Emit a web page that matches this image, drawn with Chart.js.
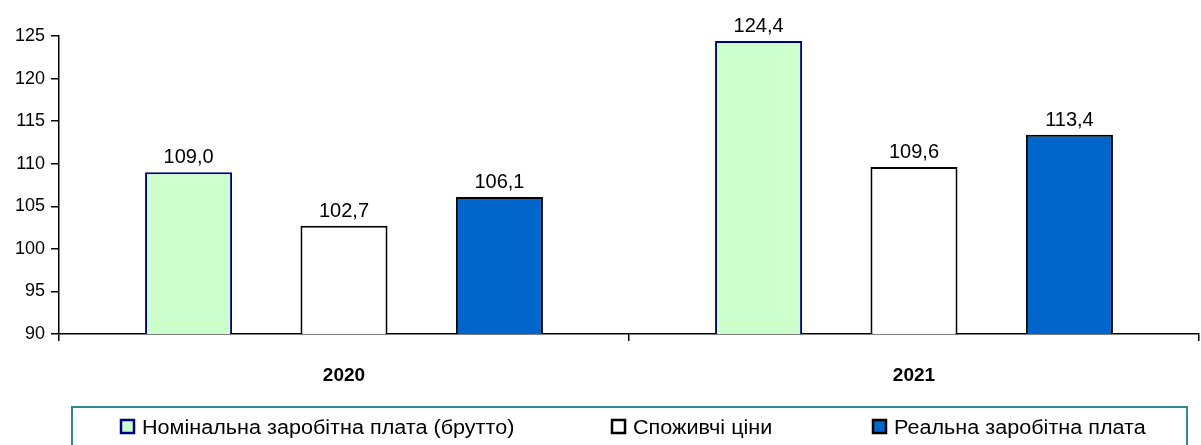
<!DOCTYPE html>
<html><head><meta charset="utf-8">
<script src="https://cdn.jsdelivr.net/npm/chart.js@4/dist/chart.umd.min.js"></script>
<style>html,body{margin:0;padding:0;background:#fff}#wrap{width:1201px;height:445px;position:relative}</style>
</head><body><div id="wrap"><canvas id="c" width="1201" height="445"></canvas></div>
<script>
const categories = ['2020', '2021'];
const seriesNames = ['Номінальна заробітна плата (брутто)', 'Споживчі ціни', 'Реальна заробітна плата'];
const nominalWage = [109.0, 124.4];
const consumerPrices = [102.7, 109.6];
const realWage = [106.1, 113.4];
const yMin = 90, yMax = 125, yStep = 5;

const FONT = "'Liberation Sans', Arial, sans-serif";

const valueLabels = {
  id: 'valueLabels',
  afterDatasetsDraw(chart) {
    const ctx = chart.ctx;
    ctx.save();
    ctx.font = "20px " + FONT;
    ctx.fillStyle = '#000';
    ctx.textAlign = 'center';
    ctx.textBaseline = 'alphabetic';
    chart.data.datasets.forEach((ds, i) => {
      chart.getDatasetMeta(i).data.forEach((bar, j) => {
        ctx.fillText(ds.data[j].toFixed(1).replace('.', ','), bar.x, bar.y - 9);
      });
    });
    ctx.restore();
  }
};

const boxLegend = {
  id: 'boxLegend',
  afterDraw(chart) {
    const ctx = chart.ctx;
    ctx.save();
    ctx.strokeStyle = '#2e8b8b';
    ctx.lineWidth = 2;
    ctx.strokeRect(72, 407, 1115, 45);
    const starts = [120, 611, 872];
    const cy = 427;
    ctx.font = "20px " + FONT;
    ctx.textBaseline = 'middle';
    ctx.textAlign = 'left';
    chart.data.datasets.forEach((ds, i) => {
      const x = starts[i];
      ctx.fillStyle = ds.backgroundColor;
      ctx.fillRect(x + 1, cy - 7, 13, 13);
      ctx.strokeStyle = ds.borderColor;
      ctx.lineWidth = 2.5;
      ctx.strokeRect(x + 1, cy - 7, 13, 13);
      ctx.fillStyle = '#000';
      ctx.save();
      ctx.translate(x + 22, cy + 1);
      ctx.scale(1.08, 1);
      ctx.fillText(ds.label, 0, 0);
      ctx.restore();
    });
    ctx.restore();
  }
};

new Chart(document.getElementById('c'), {
  type: 'bar',
  data: {
    labels: categories,
    datasets: [
      { label: seriesNames[0], data: nominalWage, backgroundColor: '#ccffcc', borderColor: '#000080', borderWidth: 2 },
      { label: seriesNames[1], data: consumerPrices, backgroundColor: '#ffffff', borderColor: '#000000', borderWidth: 2 },
      { label: seriesNames[2], data: realWage, backgroundColor: '#0066cc', borderColor: '#000000', borderWidth: 2 }
    ]
  },
  plugins: [valueLabels, boxLegend],
  options: {
    responsive: false,
    animation: false,
    layout: { padding: { top: 36, right: 2, left: 0, bottom: 51 } },
    datasets: { bar: { categoryPercentage: 0.818, barPercentage: 0.56 } },
    scales: {
      x: {
        grid: { display: true, drawOnChartArea: false, offset: true, tickLength: 7, color: '#000', lineWidth: 1.5 },
        border: { color: '#000', width: 1.5 },
        ticks: { color: '#000', font: { family: FONT, size: 19, weight: 'bold' }, padding: 23 },
        afterFit(s) { s.height = 60; }
      },
      y: {
        min: yMin, max: yMax,
        ticks: { stepSize: yStep, color: '#000', font: { family: FONT, size: 18 }, padding: 6 },
        grid: { display: true, drawOnChartArea: false, tickLength: 8, color: '#000', lineWidth: 1.5 },
        border: { color: '#000', width: 1.5 },
        afterFit(s) { s.width = 59; }
      }
    },
    plugins: {
      legend: { display: false },
      tooltip: { enabled: false }
    }
  }
});
</script></body></html>
